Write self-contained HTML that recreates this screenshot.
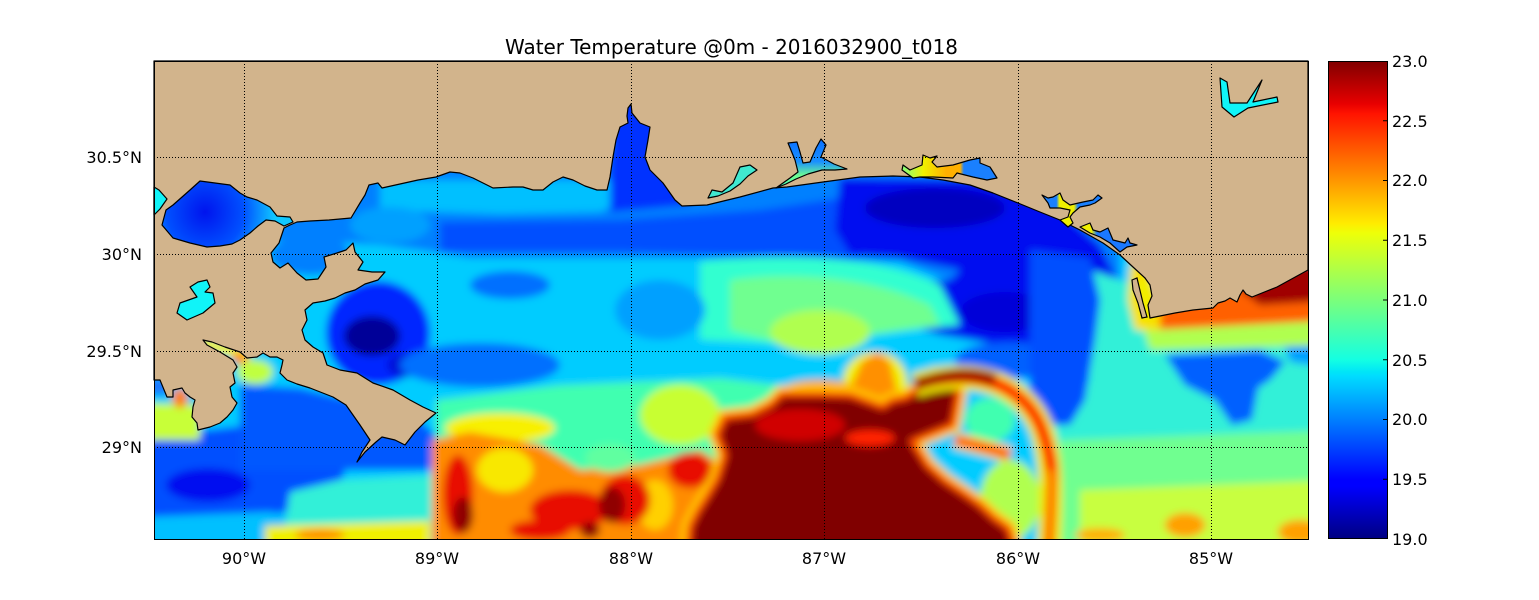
<!DOCTYPE html>
<html><head><meta charset="utf-8"><style>
html,body{margin:0;padding:0;background:#fff;}
svg{display:block;}
text{font-family:"DejaVu Sans","Liberation Sans",sans-serif;fill:#000;}
</style></head><body>
<svg width="1539" height="600" viewBox="0 0 1539 600" xmlns="http://www.w3.org/2000/svg">
<defs>
<clipPath id="plot"><rect x="154" y="61" width="1154" height="478"/></clipPath>
<filter id="bl" x="-5%" y="-5%" width="110%" height="110%"><feGaussianBlur stdDeviation="4"/></filter>
<linearGradient id="jet" x1="0" y1="1" x2="0" y2="0">
<stop offset="0" stop-color="#000080"/><stop offset="0.11" stop-color="#0000ff"/><stop offset="0.125" stop-color="#0000ff"/>
<stop offset="0.34" stop-color="#00dbff"/><stop offset="0.35" stop-color="#00e6f7"/><stop offset="0.375" stop-color="#14ffe2"/>
<stop offset="0.5" stop-color="#7bff7b"/><stop offset="0.64" stop-color="#eeff08"/><stop offset="0.66" stop-color="#ffec00"/>
<stop offset="0.75" stop-color="#ff9600"/><stop offset="0.89" stop-color="#ff1300"/><stop offset="0.91" stop-color="#e80000"/>
<stop offset="1" stop-color="#800000"/>
</linearGradient>
<radialGradient id="pont" cx="205" cy="212" r="70" gradientUnits="userSpaceOnUse">
<stop offset="0" stop-color="#0014ee"/><stop offset="0.55" stop-color="#0050ff"/><stop offset="1" stop-color="#10c8ff"/>
</radialGradient>
<linearGradient id="choc" x1="905" y1="0" x2="997" y2="0" gradientUnits="userSpaceOnUse">
<stop offset="0" stop-color="#90ff70"/><stop offset="0.2" stop-color="#f0f000"/><stop offset="0.45" stop-color="#ffb000"/>
<stop offset="0.6" stop-color="#ffb000"/><stop offset="0.64" stop-color="#1a80ff"/><stop offset="1" stop-color="#1a80ff"/>
</linearGradient>
<linearGradient id="stand" x1="1042" y1="0" x2="1100" y2="0" gradientUnits="userSpaceOnUse">
<stop offset="0" stop-color="#1a80ff"/><stop offset="0.25" stop-color="#1a80ff"/><stop offset="0.3" stop-color="#f0f000"/>
<stop offset="0.55" stop-color="#f0f000"/><stop offset="0.62" stop-color="#1a80ff"/><stop offset="1" stop-color="#1a80ff"/>
</linearGradient>
<linearGradient id="eastb" x1="1080" y1="0" x2="1137" y2="0" gradientUnits="userSpaceOnUse">
<stop offset="0" stop-color="#f0f000"/><stop offset="0.2" stop-color="#f0f000"/><stop offset="0.3" stop-color="#1a78ff"/><stop offset="1" stop-color="#1a78ff"/>
</linearGradient>
<linearGradient id="pens" x1="0" y1="140" x2="0" y2="188" gradientUnits="userSpaceOnUse">
<stop offset="0" stop-color="#0a70ff"/><stop offset="0.45" stop-color="#1a90ff"/><stop offset="0.75" stop-color="#70ff90"/><stop offset="1" stop-color="#40ffc0"/>
</linearGradient>
</defs>

<!-- data field -->
<g clip-path="url(#plot)">
<g filter="url(#bl)">
<rect x="120" y="40" width="1220" height="530" fill="#00ccff"/>
<polygon fill="#0080ff" points="120,150 1120,150 1120,300 1000,300 900,262 760,258 600,258 470,258 420,250 380,245 300,240 120,240"/>
<polygon fill="#00c0ff" points="380,180 620,180 640,195 600,212 500,214 440,212 380,210"/>
<ellipse cx="390" cy="225" rx="40" ry="18" fill="#00a0ff"/>
<polygon fill="#0050ff" points="440,222 620,220 760,210 860,195 860,258 760,256 620,252 440,252"/>
<polygon fill="#0030ff" points="610,100 660,100 690,205 610,212"/>
<ellipse cx="310" cy="255" rx="40" ry="20" fill="#0080ff"/>
<path fill="#0010f0" d="M840,178 L1010,180 L1060,210 L1100,245 L1115,275 L1100,300 L1085,330 L1050,345 L1000,345 L940,335 L890,320 L870,300 L890,282 L950,280 L960,270 L900,258 L850,255 L835,230 Z"/>
<ellipse cx="935" cy="208" rx="70" ry="20" fill="#0000c0"/>
<ellipse cx="1005" cy="312" rx="45" ry="20" fill="#0000d8"/>
<ellipse cx="1010" cy="360" rx="55" ry="18" fill="#0060ff"/>
<path fill="#30ffd0" d="M700,262 C780,252 880,255 940,285 L960,325 C900,330 850,340 800,345 L700,340 Z"/>
<path fill="#70ff90" d="M730,280 C800,270 880,280 930,305 L940,325 C890,330 840,340 790,345 L730,330 Z"/>
<ellipse cx="820" cy="332" rx="50" ry="22" fill="#b0ff50"/>
<ellipse cx="378" cy="333" rx="52" ry="52" fill="#0028ff"/>
<ellipse cx="372" cy="336" rx="28" ry="20" fill="#000098"/>
<ellipse cx="405" cy="365" rx="18" ry="12" fill="#0010d8"/>
<ellipse cx="510" cy="285" rx="40" ry="14" fill="#0070ff"/>
<ellipse cx="480" cy="365" rx="80" ry="22" fill="#0070ff"/>
<ellipse cx="660" cy="310" rx="45" ry="30" fill="#00a0ff"/>
<polygon fill="#0050ff" points="120,440 250,425 330,420 350,460 330,505 250,518 120,520"/>
<polygon fill="#0058ff" points="240,385 300,388 350,400 420,420 440,440 430,470 340,470 240,470"/>
<ellipse cx="208" cy="485" rx="42" ry="17" fill="#0010f0"/>
<polygon fill="#00c0ff" points="120,518 270,512 300,520 300,560 120,560"/>
<polygon fill="#30f0d8" points="290,492 340,480 436,475 436,560 280,560"/>
<polygon fill="#f0f000" points="265,526 430,521 430,560 265,560"/>
<ellipse cx="320" cy="535" rx="25" ry="6" fill="#ff9000"/>
<polygon fill="#c8ff38" points="120,402 200,405 200,440 120,440"/>
<ellipse cx="180" cy="398" rx="8" ry="10" fill="#ff8000"/>
<rect x="120" y="378" width="50" height="17" fill="#1a78ff"/>
<ellipse cx="255" cy="372" rx="18" ry="12" fill="#c0ff40"/>
<polygon fill="#f0f000" points="200,336 250,350 250,362 200,348"/>
<ellipse cx="240" cy="358" rx="8" ry="6" fill="#ff9000"/>
<polygon fill="#40ffb0" points="436,400 560,385 720,378 780,385 780,470 436,470"/>
<ellipse cx="680" cy="415" rx="40" ry="30" fill="#c8ff30"/>
<ellipse cx="500" cy="428" rx="55" ry="15" fill="#f8f000"/>
<polygon fill="#ff8c00" points="432,440 470,432 540,445 580,470 640,465 700,450 730,470 700,560 432,560"/>
<ellipse cx="505" cy="470" rx="28" ry="22" fill="#f8e800"/>
<ellipse cx="655" cy="505" rx="18" ry="25" fill="#ffd000"/>
<ellipse cx="458" cy="495" rx="15" ry="40" fill="#e81000"/>
<ellipse cx="570" cy="510" rx="40" ry="20" fill="#e81000"/>
<ellipse cx="625" cy="500" rx="25" ry="25" fill="#e81000"/>
<ellipse cx="690" cy="470" rx="22" ry="18" fill="#e81000"/>
<ellipse cx="540" cy="530" rx="30" ry="10" fill="#e81000"/>
<ellipse cx="463" cy="515" rx="10" ry="18" fill="#900000"/>
<ellipse cx="612" cy="505" rx="13" ry="18" fill="#900000"/>
<ellipse cx="590" cy="530" rx="10" ry="8" fill="#900000"/>
<ellipse cx="610" cy="458" rx="25" ry="14" fill="#60ffa0"/>
<ellipse cx="875" cy="382" rx="32" ry="30" fill="#f0f000"/>
<ellipse cx="820" cy="392" rx="40" ry="12" fill="#ffa000"/>
<polygon fill="#ff9000" points="845,410 852,385 862,362 878,352 890,362 896,388 905,400 880,412"/>
<ellipse cx="990" cy="420" rx="25" ry="22" fill="#40ffb0"/>
<ellipse cx="1010" cy="500" rx="30" ry="40" fill="#b0ff50"/>
<!-- right region -->
<polygon fill="#30f0d8" points="1075,265 1150,290 1340,330 1340,560 1040,560 1050,430 1090,380"/>
<polygon fill="#0050ff" points="1030,250 1090,258 1100,300 1095,340 1085,400 1070,425 1040,425 1030,400"/>
<polygon fill="#0060ff" points="1165,355 1260,350 1285,362 1270,380 1258,388 1252,420 1232,425 1215,400 1185,385"/>
<polygon fill="#00a0ff" points="1280,335 1340,330 1340,370 1290,362"/>
<polygon fill="#70ff90" points="1060,440 1340,430 1340,560 1060,560"/>
<polygon fill="#c8ff40" points="1080,490 1340,480 1340,560 1080,560"/>
<ellipse cx="1185" cy="525" rx="20" ry="12" fill="#ffa000"/>
<ellipse cx="1300" cy="532" rx="22" ry="12" fill="#ffa000"/>
<ellipse cx="1100" cy="535" rx="25" ry="7" fill="#ffb000"/>
<polygon fill="#b0ff50" points="1140,318 1340,300 1340,345 1150,350"/>
<polygon fill="#ff6000" points="1150,300 1340,255 1340,320 1150,330"/>
<polygon fill="#a00000" points="1240,290 1340,250 1340,300 1260,305"/>
<polygon fill="#f8e000" points="1133,258 1150,270 1160,300 1160,330 1135,330 1128,300 1130,270"/>
<!-- dark red core -->
<path fill="none" stroke="#ffd000" stroke-width="22" d="M690,560 L693,527 L700,513 L710,497 L720,480 L728,455 L720,435 L727,420 L753,417 L773,407 L783,397 L817,397 L850,398 L883,410 L893,403 L908,400 L925,387 L936,378 L950,377 L957,383 L953,407 L950,423 L925,433 L908,440 L925,467 L943,483 L964,497 L978,507 L992,520 L1006,530 L1015,560"/>
<path fill="#800000" stroke="#ff4000" stroke-width="12" d="M690,560 L693,527 L700,513 L710,497 L720,480 L728,455 L720,435 L727,420 L753,417 L773,407 L783,397 L817,397 L850,398 L883,410 L893,403 L908,400 L925,387 L936,378 L950,377 L957,383 L953,407 L950,423 L925,433 L908,440 L925,467 L943,483 L964,497 L978,507 L992,520 L1006,530 L1015,560 Z"/>
<path fill="#800000" d="M690,560 L693,527 L700,513 L710,497 L720,480 L728,455 L720,435 L727,420 L753,417 L773,407 L783,397 L817,397 L850,398 L883,410 L893,403 L908,400 L925,387 L936,378 L950,377 L957,383 L953,407 L950,423 L925,433 L908,440 L925,467 L943,483 L964,497 L978,507 L992,520 L1006,530 L1015,560 Z"/>
<ellipse cx="800" cy="425" rx="45" ry="16" fill="#d00000"/>
<ellipse cx="870" cy="438" rx="25" ry="8" fill="#ff2000"/>
<!-- ring -->
<path fill="none" stroke="#e8f000" stroke-width="24" d="M915,385 C975,365 1025,385 1042,430 C1052,460 1052,500 1048,560"/>
<path fill="none" stroke="#ff3000" stroke-width="13" d="M915,385 C975,365 1025,385 1042,430 C1050,452 1052,470 1052,480"/>
<path fill="none" stroke="#a00000" stroke-width="12" d="M915,385 C950,372 975,372 995,380"/>
<path fill="none" stroke="#ff8000" stroke-width="12" d="M1052,470 C1052,500 1050,520 1048,560"/>
<path fill="none" stroke="#f8e000" stroke-width="16" d="M955,440 C975,445 995,450 1010,455"/>
<path fill="none" stroke="#ff6000" stroke-width="10" d="M955,440 C975,445 995,450 1010,455"/>
<polygon fill="#f0f000" points="1137,280 1150,282 1152,318 1142,318"/>
</g>
</g>

<!-- land -->
<path fill="#d2b48c" stroke="#000" stroke-width="1.2" stroke-linejoin="round" d="M154,61 L1308,61 L1308,270 L1277,287 L1252,297 L1246,294 L1243,290 L1240,295 L1237,302 L1230,298 L1225,301 L1218,303 L1213,308 L1193,310 L1175,313 L1160,316 L1150,318 L1148,305 L1152,296 L1150,285 L1145,278 L1133,267 L1120,255 L1103,243 L1080,230 L1060,220 L1040,212 L1018,203 L993,193 L970,185 L943,180 L920,177 L893,176 L860,177 L823,182 L787,187 L773,188 L740,197 L707,205 L682,206 L675,200 L663,183 L650,170 L645,157 L648,140 L650,127 L640,123 L632,113 L631,104 L628,108 L627,116 L628,123 L620,127 L616,140 L613,157 L610,177 L607,190 L597,190 L585,186 L573,180 L563,177 L553,182 L543,190 L533,190 L523,187 L513,187 L493,188 L473,178 L460,173 L450,172 L436,177 L418,180 L400,184 L382,188 L378,183 L369,185 L365,195 L360,203 L351,218 L329,220 L310,221 L297,222 L290,225 L284,228 L279,243 L271,253 L273,262 L280,268 L288,263 L297,273 L306,280 L318,279 L326,267 L324,257 L337,253 L346,250 L353,243 L355,252 L363,262 L358,270 L372,272 L385,272 L378,280 L365,284 L355,290 L345,293 L335,298 L325,301 L313,303 L305,310 L307,320 L302,330 L305,340 L313,347 L323,353 L327,365 L340,370 L357,373 L373,383 L393,390 L410,400 L423,407 L436,413 L425,422 L415,432 L405,445 L395,440 L382,437 L376,442 L365,452 L357,462 L362,452 L370,440 L360,425 L346,405 L333,397 L310,388 L297,384 L287,380 L280,373 L282,365 L283,360 L277,357 L270,357 L263,353 L257,357 L247,358 L240,352 L225,347 L212,342 L203,340 L207,345 L220,352 L233,360 L237,367 L233,373 L235,383 L230,387 L232,397 L237,403 L233,410 L227,417 L220,423 L210,427 L198,430 L197,423 L192,417 L193,407 L195,400 L190,397 L185,393 L182,388 L173,390 L173,397 L167,397 L160,380 L154,380 Z"/>
<path fill="#d2b48c" stroke="#000" stroke-width="1.2" d="M1132,280 L1137,278 L1143,303 L1147,317 L1142,318 L1138,303 L1133,290 Z"/>

<!-- lakes / bays -->
<g stroke="#000" stroke-width="1.2" stroke-linejoin="round">
<path fill="#10f4f8" d="M154,187 L159,190 L167,199 L160,209 L154,215 Z"/>
<path fill="url(#pont)" d="M162,225 L166,210 L173,205 L190,190 L200,181 L215,183 L230,185 L240,193 L247,197 L257,200 L270,207 L277,216 L290,217 L293,222 L284,226 L275,221 L266,220 L258,226 L250,233 L240,240 L232,244 L220,246 L207,247 L190,243 L173,238 Z"/>
<path fill="#10f4f8" d="M177,313 L180,303 L197,297 L190,287 L198,282 L207,280 L210,287 L205,292 L213,293 L215,303 L203,313 L187,320 Z"/>
<path fill="url(#pens)" d="M788,143 L797,142 L800,152 L803,163 L810,162 L816,148 L821,139 L826,145 L821,157 L834,164 L847,169 L835,170 L822,170 L808,174 L796,179 L786,184 L776,188 L790,178 L798,172 L795,160 Z"/>
<path fill="#40e8d0" d="M740,167 L750,165 L757,170 L748,176 L740,184 L730,191 L718,196 L708,198 L712,190 L722,192 L733,183 Z"/>
<path fill="url(#choc)" d="M902,170 L903,165 L910,170 L922,165 L923,155 L930,158 L937,156 L932,162 L937,167 L953,165 L970,160 L980,158 L980,163 L990,167 L997,178 L987,180 L973,177 L957,173 L953,178 L933,177 L920,177 L913,178 Z"/>
<path fill="url(#stand)" d="M1042,195 L1048,198 L1053,197 L1060,193 L1063,200 L1070,205 L1083,202 L1093,200 L1098,195 L1102,198 L1095,203 L1090,205 L1080,207 L1073,213 L1070,217 L1073,223 L1068,227 L1060,220 L1068,217 L1070,210 L1060,208 L1050,208 L1048,203 Z"/>
<path fill="url(#eastb)" d="M1080,227 L1090,223 L1093,230 L1100,232 L1108,228 L1113,240 L1125,243 L1128,238 L1130,243 L1137,245 L1127,247 L1120,252 L1110,243 L1100,237 L1090,233 Z"/>
<path fill="#10f4f8" d="M1220,78 L1227,82 L1230,103 L1247,103 L1262,80 L1253,102 L1277,97 L1278,102 L1248,108 L1234,117 L1222,107 Z"/>
</g>

<!-- grid -->
<g stroke="#000" stroke-width="1" stroke-dasharray="1 2" fill="none">
<line x1="244.5" y1="61" x2="244.5" y2="539"/>
<line x1="437.5" y1="61" x2="437.5" y2="539"/>
<line x1="631.5" y1="61" x2="631.5" y2="539"/>
<line x1="824.5" y1="61" x2="824.5" y2="539"/>
<line x1="1018.5" y1="61" x2="1018.5" y2="539"/>
<line x1="1211.5" y1="61" x2="1211.5" y2="539"/>
<line x1="154" y1="157.5" x2="1308" y2="157.5"/>
<line x1="154" y1="254.5" x2="1308" y2="254.5"/>
<line x1="154" y1="351.5" x2="1308" y2="351.5"/>
<line x1="154" y1="447.5" x2="1308" y2="447.5"/>
</g>
<rect x="154.5" y="61.5" width="1154" height="478" fill="none" stroke="#000" stroke-width="1"/>

<!-- title -->
<text x="731.5" y="54" font-size="20" text-anchor="middle" textLength="453" lengthAdjust="spacingAndGlyphs">Water Temperature @0m - 2016032900_t018</text>

<!-- y labels -->
<g font-size="16" text-anchor="end">
<text x="142" y="163">30.5°N</text>
<text x="142" y="260">30°N</text>
<text x="142" y="357">29.5°N</text>
<text x="142" y="453">29°N</text>
</g>
<!-- x labels -->
<g font-size="16" text-anchor="middle">
<text x="244" y="564">90°W</text>
<text x="437" y="564">89°W</text>
<text x="631" y="564">88°W</text>
<text x="824" y="564">87°W</text>
<text x="1018" y="564">86°W</text>
<text x="1211" y="564">85°W</text>
</g>

<!-- colorbar -->
<rect x="1328" y="61" width="59" height="478" fill="url(#jet)"/>
<rect x="1328.5" y="61.5" width="59" height="477" fill="none" stroke="#000" stroke-width="1"/>
<g stroke="#000" stroke-width="1">
<line x1="1383" y1="120.75" x2="1387" y2="120.75"/>
<line x1="1383" y1="180.5" x2="1387" y2="180.5"/>
<line x1="1383" y1="240.25" x2="1387" y2="240.25"/>
<line x1="1383" y1="300" x2="1387" y2="300"/>
<line x1="1383" y1="359.75" x2="1387" y2="359.75"/>
<line x1="1383" y1="419.5" x2="1387" y2="419.5"/>
<line x1="1383" y1="479.25" x2="1387" y2="479.25"/>
</g>
<g font-size="16">
<text x="1392" y="67">23.0</text>
<text x="1392" y="127">22.5</text>
<text x="1392" y="186">22.0</text>
<text x="1392" y="246">21.5</text>
<text x="1392" y="306">21.0</text>
<text x="1392" y="366">20.5</text>
<text x="1392" y="425">20.0</text>
<text x="1392" y="485">19.5</text>
<text x="1392" y="545">19.0</text>
</g>
</svg>
</body></html>
